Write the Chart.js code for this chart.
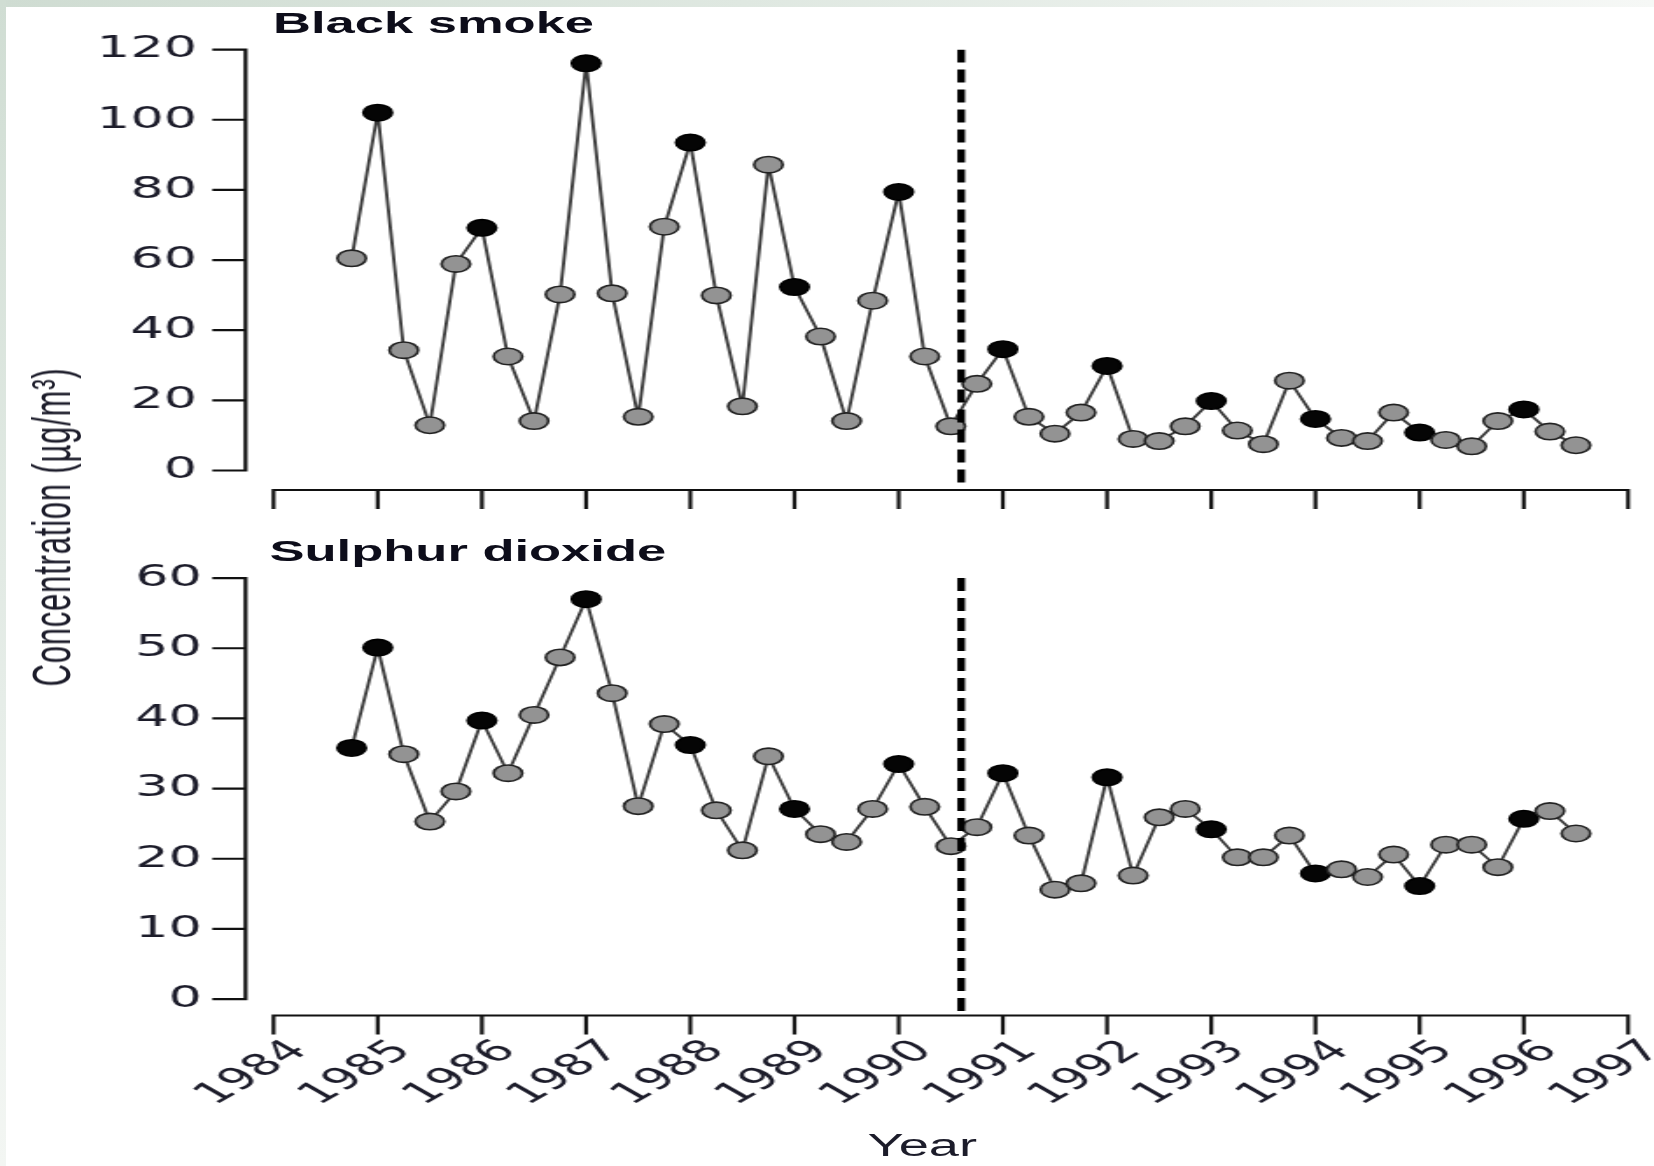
<!DOCTYPE html>
<html>
<head>
<meta charset="utf-8">
<script src="https://cdn.jsdelivr.net/npm/chart.js@4"></script>
<style>
  html, body { margin: 0; padding: 0; background: #fff; }
  body { width: 1654px; height: 1166px; position: relative; overflow: hidden; }
  #bandTop { position: absolute; left: 0; top: 0; width: 1654px; height: 7px;
    background: linear-gradient(90deg, #cfdcd2 0%, #dfe8e1 45%, #f6f8f6 100%); }
  #bandLeft { position: absolute; left: 0; top: 0; width: 6px; height: 1166px;
    background: linear-gradient(180deg, #d0ddd3 0%, #e6ede8 60%, #f3f6f3 100%); }
  /* the original figure is stretched sideways, so the whole drawing is too */
  #wrap { position: absolute; left: 0; top: 0; width: 945px; height: 1166px;
    transform: scaleX(1.75); transform-origin: 0 0; }
  #wrap canvas { position: absolute; left: 0; top: 0; }
  .panelTitle { position: absolute; font: bold 30px "Liberation Sans", Arial, sans-serif;
    color: #0d0d1a; line-height: 30px; white-space: nowrap; }
  .axisTitle { position: absolute; font: 30px "Liberation Sans", Arial, sans-serif;
    color: #1c1c2a; white-space: nowrap; transform: translate(-50%, -50%); }
</style>
</head>
<body>
<div id="bandTop"></div>
<div id="bandLeft"></div>
<div id="wrap">
  <canvas id="smokeChart" width="945" height="1166"></canvas>
  <canvas id="so2Chart" width="945" height="1166"></canvas>
  <div class="panelTitle" style="left:156px; top:8px;">Black smoke</div>
  <div class="panelTitle" style="left:154px; top:536px;">Sulphur dioxide</div>
  <div class="axisTitle" style="left:30px; top:527px; font-size:31px; letter-spacing:0.8px; transform: translate(-50%, -50%) rotate(-90deg);">Concentration (µg/m³)</div>
  <div class="axisTitle" style="left:527px; top:1146px; font-size:31px;">Year</div>
</div>
<script>
// quarterly readings
const quarters = [1984.75, 1985, 1985.25, 1985.5, 1985.75, 1986, 1986.25, 1986.5, 1986.75,
  1987, 1987.25, 1987.5, 1987.75, 1988, 1988.25, 1988.5, 1988.75, 1989, 1989.25, 1989.5, 1989.75,
  1990, 1990.25, 1990.5, 1990.75, 1991, 1991.25, 1991.5, 1991.75, 1992, 1992.25, 1992.5, 1992.75,
  1993, 1993.25, 1993.5, 1993.75, 1994, 1994.25, 1994.5, 1994.75, 1995, 1995.25, 1995.5, 1995.75,
  1996, 1996.25, 1996.5];

const smoke = [60.5, 102, 34.3, 12.9, 58.9, 69.2, 32.5, 14.1, 50.2, 116.1, 50.5, 15.3,
  69.5, 93.5, 49.9, 18.3, 87.2, 52.3, 38.2, 14.1, 48.4, 79.4, 32.5, 12.6,
  24.7, 34.6, 15.3, 10.5, 16.5, 29.8, 9.0, 8.4, 12.6, 19.8, 11.4, 7.5,
  25.6, 14.7, 9.3, 8.4, 16.5, 10.8, 8.7, 6.9, 14.1, 17.4, 11.1, 7.2];

const so2 = [35.8, 50.1, 34.9, 25.3, 29.6, 39.7, 32.2, 40.5, 48.7, 57.0, 43.6, 27.5,
  39.2, 36.2, 26.9, 21.2, 34.6, 27.1, 23.5, 22.4, 27.1, 33.5, 27.4, 21.8,
  24.5, 32.2, 23.3, 15.6, 16.5, 31.6, 17.6, 25.9, 27.1, 24.2, 20.2, 20.2,
  23.3, 17.9, 18.5, 17.4, 20.6, 16.1, 22.0, 22.0, 18.8, 25.7, 26.8, 23.6];

// indexes of the points drawn black
const smokeDark = [1, 5, 9, 13, 17, 21, 25, 29, 33, 37, 41, 45];
const so2Dark = [0, 1, 5, 9, 13, 17, 21, 25, 29, 33, 37, 41, 45];

const yearTicks = [1984, 1985, 1986, 1987, 1988, 1989, 1990, 1991, 1992, 1993, 1994, 1995, 1996, 1997];
const smokeTicks = [0, 20, 40, 60, 80, 100, 120];
const so2Ticks = [0, 10, 20, 30, 40, 50, 60];
const banYear = 1990.6;

const tickFont = { family: '"DejaVu Sans", sans-serif', size: 30 };
const inkColor = '#1c1c2a';

// R style axes: lines set apart from the plot, ticks pointing out
const offsetAxes = {
  id: 'offsetAxes',
  afterDraw(chart, args, opts) {
    const { ctx, chartArea } = chart;
    const xs = chart.scales.x, ys = chart.scales.y;
    ctx.save();
    ctx.strokeStyle = '#111';
    ctx.lineWidth = 2.2;
    ctx.beginPath();
    const ax = opts.yAxisX;
    const yTop = ys.getPixelForValue(ys.ticks[ys.ticks.length - 1].value);
    const yBot = ys.getPixelForValue(ys.ticks[0].value);
    ctx.moveTo(ax, yTop - 1.1);
    ctx.lineTo(ax, yBot + 1.1);
    ys.ticks.forEach(t => {
      const p = ys.getPixelForValue(t.value);
      ctx.moveTo(ax - opts.tick, p);
      ctx.lineTo(ax, p);
    });
    const by = chartArea.bottom;
    ctx.moveTo(xs.getPixelForValue(xs.ticks[0].value) - 1.1, by);
    ctx.lineTo(xs.getPixelForValue(xs.ticks[xs.ticks.length - 1].value) + 1.1, by);
    xs.ticks.forEach(t => {
      const p = xs.getPixelForValue(t.value);
      ctx.moveTo(p, by);
      ctx.lineTo(p, by + opts.tick);
    });
    ctx.stroke();
    ctx.restore();
  }
};

function makeChart(id, values, dark, yTicks, cfg) {
  const points = quarters.map((q, i) => ({ x: q, y: values[i] }));
  const fills = values.map((v, i) => dark.includes(i) ? '#050505' : '#939393');
  const edges = values.map((v, i) => dark.includes(i) ? '#000' : '#222');

  return new Chart(document.getElementById(id), {
    type: 'line',
    data: {
      datasets: [
        {
          data: [{ x: banYear, y: cfg.yMax }, { x: banYear, y: cfg.yMin }],
          borderColor: '#000',
          borderWidth: 4.4,
          borderDash: [13, 7],
          pointRadius: 0,
          order: 0
        },
        {
          data: points,
          borderColor: '#3a3a3a',
          borderWidth: 1.9,
          pointRadius: 8.2,
          pointBorderWidth: 1.6,
          pointBackgroundColor: fills,
          pointBorderColor: edges,
          order: 1
        }
      ]
    },
    options: {
      responsive: false,
      animation: false,
      events: [],
      layout: { padding: { left: 0, right: 14.7, top: cfg.padTop, bottom: 0 } },
      plugins: {
        legend: { display: false },
        tooltip: { enabled: false },
        offsetAxes: { yAxisX: 140.3, tick: 19 }
      },
      scales: {
        x: {
          type: 'linear',
          min: yearTicks[0],
          max: yearTicks[yearTicks.length - 1],
          afterBuildTicks: s => { s.ticks = yearTicks.map(v => ({ value: v })); },
          afterFit: s => { s.height = 1166 - cfg.xAxisY; s.paddingLeft = 0; s.paddingRight = 0; },
          grid: { display: false, drawTicks: false },
          border: { display: false },
          ticks: {
            display: cfg.showYears,
            autoSkip: false,
            minRotation: 45,
            maxRotation: 45,
            padding: 18,
            labelOffset: 15,
            font: tickFont,
            color: inkColor,
            callback: v => String(v)
          }
        },
        y: {
          min: cfg.yMin,
          max: cfg.yMax,
          afterBuildTicks: s => { s.ticks = yTicks.map(v => ({ value: v })); },
          afterFit: s => { s.width = 156.3; s.paddingTop = 0; s.paddingBottom = 0; },
          grid: { display: false, drawTicks: false },
          border: { display: false },
          ticks: { padding: cfg.labelPad, font: tickFont, color: inkColor, callback: v => String(v) }
        }
      }
    },
    plugins: [offsetAxes]
  });
}

makeChart('smokeChart', smoke, smokeDark, smokeTicks,
  { yMin: -5.56, yMax: 120, padTop: 49.6, xAxisY: 490, showYears: false, labelPad: 43.7 });
makeChart('so2Chart', so2, so2Dark, so2Ticks,
  { yMin: -2.34, yMax: 60, padTop: 578.1, xAxisY: 1015.5, showYears: true, labelPad: 41 });
</script>
</body>
</html>
